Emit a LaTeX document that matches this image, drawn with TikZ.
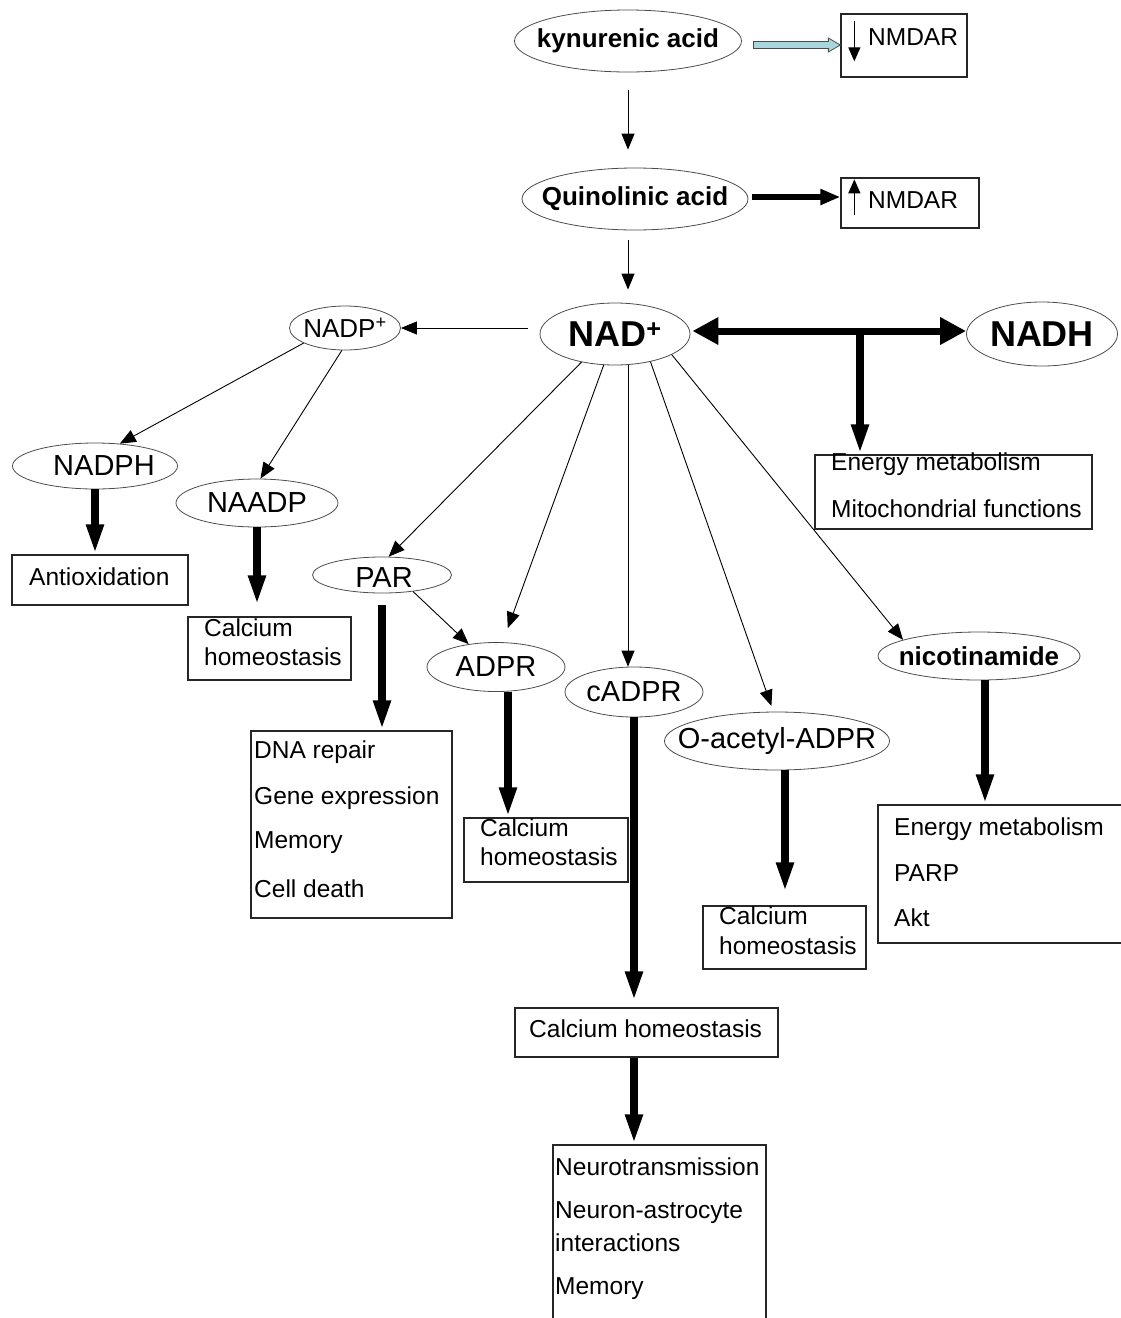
\documentclass[tikz,border=0pt]{standalone}
\usepackage{fontspec}
\setmainfont{Liberation Sans}
\usetikzlibrary{shapes.geometric,arrows.meta,calc}
\definecolor{kynblue}{RGB}{168,214,220}
\newcommand\myfs[1]{\fontsize{#1}{#1}\selectfont}
\begin{document}
\begin{tikzpicture}[x=1pt,y=-1pt,
  ell/.style={ellipse, draw=black!70, line width=0.8pt, inner sep=0pt},
  etxt/.style={inner sep=0pt, font=\myfs{29}},
  ebold/.style={inner sep=0pt, font=\bfseries\myfs{26}},
  bx/.style={draw=black!85, line width=1.3pt, inner sep=0pt},
  lbl/.style={inner sep=0pt, anchor=west, font=\myfs{24.5}},
  thinarr/.style={line width=0.9pt, -{Triangle[length=16pt,width=13pt]}},
  medarr/.style={line width=6pt, -{Triangle[length=20pt,width=15pt]}},
  thickarr/.style={line width=7.5pt, -{Triangle[length=30pt,width=16pt]}},
  dblarr/.style={line width=7pt, {Triangle[length=26pt,width=26pt]}-{Triangle[length=26pt,width=26pt]}}
]
\useasboundingbox (0,0) rectangle (1120,1318);

% ---- ellipses ----
\node[ell, minimum width=227pt, minimum height=62pt] (kyn) at (628,41) {};
\node[ebold] (kynt) at (kyn) {kynurenic acid};
\node[ell, minimum width=226pt, minimum height=62pt] (quin) at (635,199) {};
\node[ebold] (quint) at (quin) {Quinolinic acid};
\node[ell, minimum width=150pt, minimum height=62pt] (nad) at (615,334) {};
\node[inner sep=0pt, font=\bfseries\myfs{36}] (nadt) at (nad) {NAD\textsuperscript{+}};
\node[ell, minimum width=151pt, minimum height=64pt] (nadh) at (1042,334) {};
\node[inner sep=0pt, font=\bfseries\myfs{36}] (nadht) at (nadh) {NADH};
\node[ell, minimum width=111pt, minimum height=44pt] (nadp) at (345,328) {};
\node[inner sep=0pt, font=\myfs{26}] (nadpt) at (nadp) {NADP\textsuperscript{+}};
\node[ell, minimum width=165pt, minimum height=46pt] (nadph) at (95,466) {};
\node[etxt] (nadpht) at (104,466) {NADPH};
\node[ell, minimum width=162pt, minimum height=48pt] (naadp) at (257,503) {};
\node[etxt] (naadpt) at (naadp) {NAADP};
\node[ell, minimum width=139pt, minimum height=36pt] (par) at (382,575) {};
\node[etxt] (part) at (384,578) {PAR};
\node[ell, minimum width=138pt, minimum height=49pt] (adpr) at (496,667) {};
\node[etxt] (adprt) at (adpr) {ADPR};
\node[ell, minimum width=138pt, minimum height=50pt] (cadpr) at (634,692) {};
\node[etxt] (cadprt) at (cadpr) {cADPR};
\node[ell, minimum width=225pt, minimum height=58pt] (oac) at (777,741) {};
\node[etxt] (oact) at (oac) {O-acetyl-ADPR};
\node[ell, minimum width=202pt, minimum height=48pt] (nic) at (979,656) {};
\node[ebold] (nict) at (nic) {nicotinamide};

% ---- boxes ----
\node[bx, minimum width=126pt, minimum height=63pt] (nm1) at (904,45.5) {};
\node[lbl] (nm1t) at (868,37) {NMDAR};
\node[bx, minimum width=138pt, minimum height=50pt] (nm2) at (910,203) {};
\node[lbl] (nm2t) at (868,200) {NMDAR};
\node[bx, minimum width=277pt, minimum height=74pt] (en1) at (953.5,492) {};
\node[lbl] (en1a) at (831,464) {Energy metabolism};
\node[lbl] (en1b) at (831,509) {Mitochondrial functions};
\node[bx, minimum width=176pt, minimum height=50pt] (antiox) at (100,580) {};
\node[lbl] (antioxt) at (29,577) {Antioxidation};
\node[bx, minimum width=163pt, minimum height=63pt] (calc1) at (269.5,648.5) {};
\node[lbl] (calc1a) at (204,628) {Calcium};
\node[lbl] (calc1b) at (204,657) {homeostasis};
\node[bx, minimum width=201pt, minimum height=187pt] (dna) at (351.5,824.5) {};
\node[lbl] (dna1) at (254,752) {DNA repair};
\node[lbl] (dna2) at (254,798) {Gene expression};
\node[lbl] (dna3) at (254,843) {Memory};
\node[lbl] (dna4) at (254,889) {Cell death};
\node[bx, minimum width=164pt, minimum height=64pt] (calc2) at (546,850) {};
\node[lbl] (calc2a) at (480,828) {Calcium};
\node[lbl] (calc2b) at (480,857) {homeostasis};
\node[bx, minimum width=163pt, minimum height=63pt] (calc3) at (784.5,937.5) {};
\node[lbl] (calc3a) at (719,916) {Calcium};
\node[lbl] (calc3b) at (719,946) {homeostasis};
\node[bx, minimum width=247pt, minimum height=138pt] (en2) at (1001.5,874) {};
\node[lbl] (en2a) at (894,829) {Energy metabolism};
\node[lbl] (en2b) at (894,873) {PARP};
\node[lbl] (en2c) at (894,918) {Akt};
\node[bx, minimum width=263pt, minimum height=49pt] (calc4) at (646.5,1032.5) {};
\node[lbl] (calc4t) at (529,1029) {Calcium homeostasis};
\node[bx, minimum width=213pt, minimum height=200pt] (neuro) at (659.5,1245) {};
\node[lbl] (neu1) at (555,1167) {Neurotransmission};
\node[lbl] (neu2) at (555,1213) {Neuron-astrocyte};
\node[lbl] (neu3) at (555,1243) {interactions};
\node[lbl] (neu4) at (555,1289) {Memory};

% ---- small arrows inside NMDAR boxes ----
\draw[line width=1.2pt, -{Triangle[length=14pt,width=12pt]}] ($(nm1.north west)+(14,8)$) -- ($(nm1.north west)+(14,48)$);
\draw[line width=1.2pt, -{Triangle[length=14pt,width=12pt]}] ($(nm2.north west)+(14,38)$) -- ($(nm2.north west)+(14,2)$);

% ---- light blue arrow kynurenic -> NMDAR ----
\coordinate (lbA) at ($(kyn.east)+(11.5,4)$);
\coordinate (lbB) at (lbA -| nm1.west);
\draw[draw=black!70, fill=kynblue, line width=0.8pt]
  ($(lbA)+(0,-3.5)$) -- ($(lbB)+(-12,-3.5)$) -- ($(lbB)+(-12,-7)$) -- (lbB)
  -- ($(lbB)+(-12,7)$) -- ($(lbB)+(-12,3.5)$) -- ($(lbA)+(0,3.5)$) -- cycle;

% ---- connectors ----
\draw[thinarr, shorten <=18pt, shorten >=18pt] (kyn.south) -- (kyn.south |- quin.north);
\draw[medarr, shorten <=4pt] ($(quin.east)+(0,-2)$) -- ($(quin.east -| nm2.west)+(0,-2)$);
\draw[thinarr, shorten <=10pt, shorten >=13pt] (kyn.south |- quin.south) -- (kyn.south |- nad.north);
\draw[dblarr] ($(nad.east)+(2,-3)$) -- ($(nadh.west)+(0,-3)$);
\coordinate (br) at (860,331);
\draw[thickarr] (br) -- (br |- en1.north);
\draw[thinarr, shorten <=12pt] (nad.west |- nadp.east) -- (nadp.east);
\draw[thinarr] (nadp.200) -- (nadph.42);
\draw[thinarr] (nadp.262) -- (naadp.82);
\draw[thickarr] (nadph.south) -- (nadph.south |- antiox.north);
\draw[thickarr, shorten >=11pt] (naadp.south) -- (naadp.south |- calc1.north);
\draw[thinarr] (nad.220) -- (par.70);
\draw[thinarr] (par.-28) -- (adpr.140);
\draw[thickarr, shorten <=12pt] (par.south) -- (par.south |- dna.north);
\draw[thinarr, shorten >=15pt] (nad.250) -- (adpr.75);
\draw[thinarr] (kyn.south |- nad.south) -- (kyn.south |- cadpr.north);
\draw[thinarr, shorten >=6pt] (nad.-38) -- (oac.97);
\draw[thinarr] (nad.-20) -- (nic.168);
\coordinate (adprS) at ($(adpr.south)+(12,0)$);
\draw[thickarr] (adprS) -- (adprS |- calc2.north);
\draw[thickarr, shorten >=6pt] (cadpr.south) -- (cadpr.south |- calc4.north);
\draw[thickarr] (cadpr.south |- calc4.south) -- (cadpr.south |- neuro.north);
\coordinate (oacS) at ($(oac.south)+(8,0)$);
\draw[thickarr, shorten >=13pt] (oacS) -- (oacS |- calc3.north);
\coordinate (nicS) at ($(nic.south)+(6,0)$);
\draw[thickarr] (nicS) -- (nicS |- en2.north);
\end{tikzpicture}
\end{document}
